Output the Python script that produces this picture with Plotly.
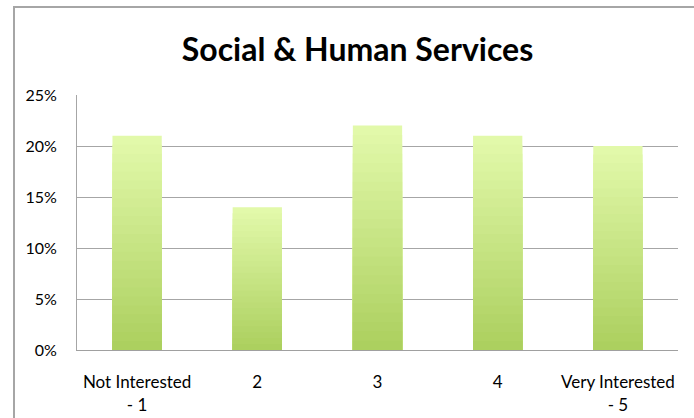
import plotly.graph_objects as go

categories = ["Not Interested<br>- 1", "2", "3", "4", "Very Interested<br>- 5"]
values = [0.21, 0.14, 0.22, 0.21, 0.20]
y_tickvals = [0, 0.05, 0.10, 0.15, 0.20, 0.25]
y_ticktext = ["0%", "5%", "10%", "15%", "20%", "25%"]
title_text = "<b>Social &amp; Human Services</b>"

# gradient colours for bars (bottom -> top)
bottom_rgb = (170, 206, 92)
top_rgb = (226, 249, 170)
n_layers = 24

W, H = 694, 418
plot_l, plot_r, plot_t, plot_b = 77, 678, 95, 350

fig = go.Figure()
for i in range(n_layers):
    f = 1 - i / n_layers
    t = f
    r = round(bottom_rgb[0] + (top_rgb[0] - bottom_rgb[0]) * t)
    g = round(bottom_rgb[1] + (top_rgb[1] - bottom_rgb[1]) * t)
    b = round(bottom_rgb[2] + (top_rgb[2] - bottom_rgb[2]) * t)
    fig.add_trace(go.Bar(
        x=categories,
        y=[v * f for v in values],
        marker=dict(color=f"rgb({r},{g},{b})", line=dict(width=0)),
        hoverinfo="skip" if i else None,
        showlegend=False,
    ))

pw = plot_r - plot_l
ph = plot_b - plot_t

fig.update_layout(
    barmode="overlay",
    bargap=0.59,
    width=W,
    height=H,
    autosize=False,
    margin=dict(l=plot_l, r=W - plot_r, t=plot_t, b=H - plot_b, autoexpand=False),
    paper_bgcolor="white",
    plot_bgcolor="white",
    font=dict(family="Lato, Carlito, sans-serif", size=17, color="#000000"),
    title=dict(
        text=title_text,
        x=(plot_l + pw / 2 - 20) / W, xanchor="center",
        y=1 - 50 / H, yanchor="middle", yref="container",
        font=dict(family="Lato, sans-serif", size=32, color="#000000"),
    ),
    xaxis=dict(
        showgrid=False,
        showline=True, linecolor="#a0a0a0", linewidth=1,
        ticks="", tickfont=dict(size=17), ticklabelstandoff=17,
        automargin=False,
        fixedrange=True,
    ),
    yaxis=dict(
        range=[0, 0.25],
        tickvals=y_tickvals,
        ticktext=y_ticktext,
        showgrid=True, gridcolor="#a6a6a6", gridwidth=1,
        showline=True, linecolor="#a6a6a6", linewidth=1,
        zeroline=False,
        ticks="", ticklabelstandoff=16,
        tickfont=dict(size=16),
        automargin=False,
        fixedrange=True,
    ),
    shapes=[dict(
        type="rect", xref="paper", yref="paper",
        x0=(14 - plot_l) / pw, x1=1.2,
        y0=-0.5, y1=(plot_b - 7) / ph,
        line=dict(color="#a6a6a6", width=2),
        fillcolor="rgba(0,0,0,0)",
        layer="below",
    )],
)

fig.write_html(
    "out.html",
    config={"displayModeBar": False},
    post_script="document.body.style.margin='0';",
)
